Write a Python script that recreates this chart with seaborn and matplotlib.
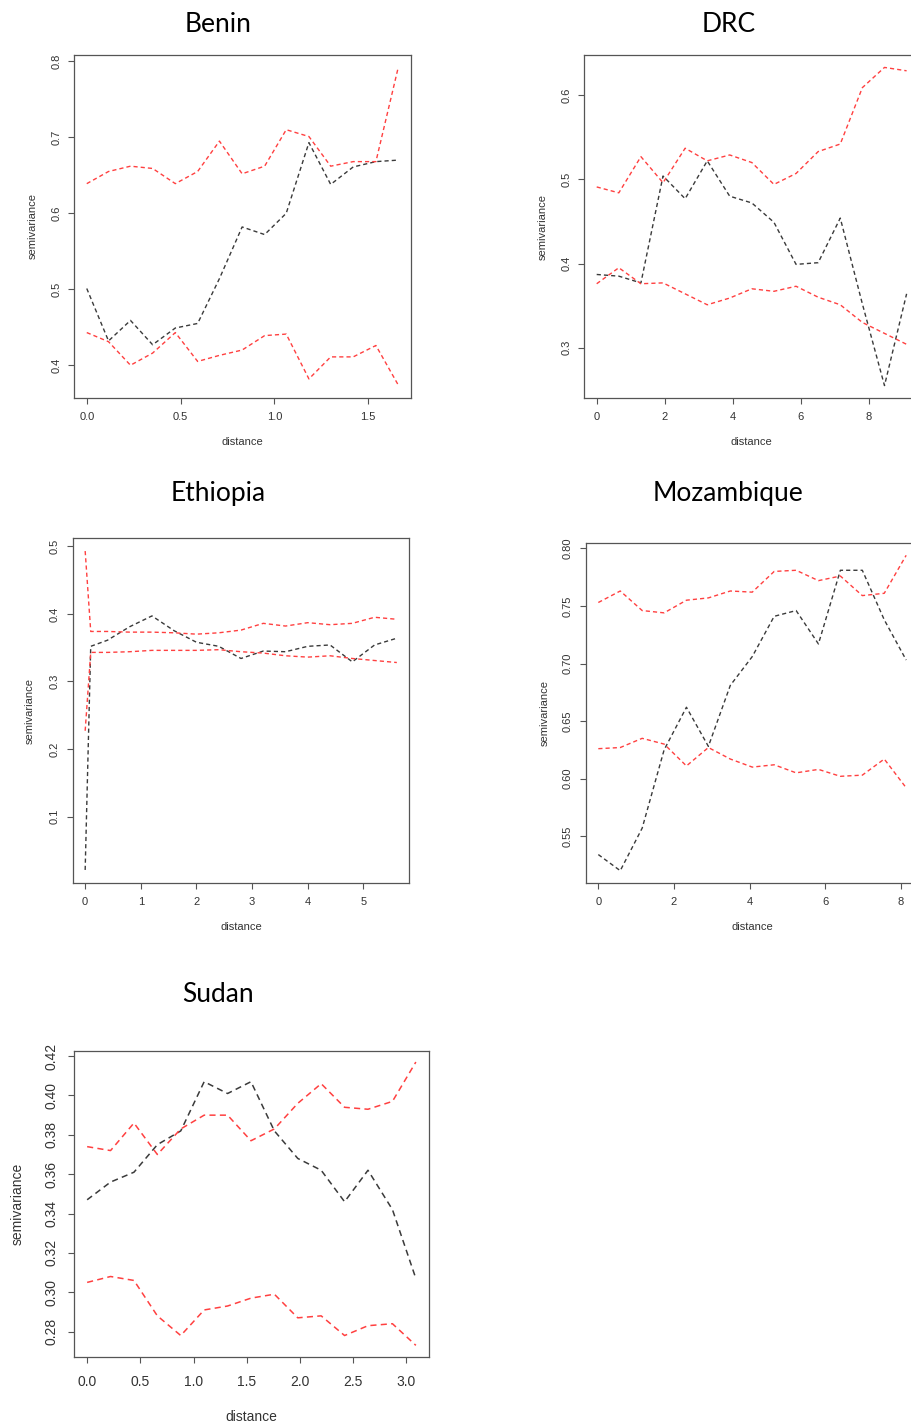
import pandas as pd
import matplotlib
matplotlib.use('Agg')
import matplotlib.pyplot as plt
import seaborn as sns

sns.set_style('ticks')
plt.rcParams['font.family'] = ['Liberation Sans', 'DejaVu Sans']

benin_dist = [0.0, 0.116, 0.233, 0.351, 0.472, 0.591, 0.707, 0.828, 0.948, 1.063, 1.184, 1.300, 1.420, 1.541, 1.660]
benin_gamma = [0.501, 0.432, 0.459, 0.427, 0.449, 0.455, 0.514, 0.582, 0.572, 0.600, 0.693, 0.638, 0.661, 0.668, 0.670]
benin_upper = [0.639, 0.655, 0.662, 0.659, 0.639, 0.655, 0.695, 0.652, 0.662, 0.710, 0.701, 0.662, 0.668, 0.668, 0.792]
benin_lower = [0.443, 0.431, 0.400, 0.416, 0.443, 0.405, 0.413, 0.420, 0.439, 0.441, 0.382, 0.411, 0.411, 0.426, 0.374]

drc_dist = [0.0, 0.65, 1.30, 1.95, 2.60, 3.25, 3.91, 4.56, 5.21, 5.86, 6.51, 7.16, 7.81, 8.46, 9.11]
drc_gamma = [0.387, 0.385, 0.377, 0.504, 0.477, 0.522, 0.480, 0.472, 0.449, 0.399, 0.401, 0.454, 0.352, 0.255, 0.364]
drc_upper = [0.491, 0.484, 0.527, 0.496, 0.537, 0.522, 0.529, 0.520, 0.494, 0.507, 0.533, 0.542, 0.609, 0.633, 0.629]
drc_lower = [0.376, 0.395, 0.376, 0.377, 0.364, 0.351, 0.359, 0.370, 0.367, 0.373, 0.360, 0.351, 0.330, 0.317, 0.304]

ethiopia_dist = [0.0, 0.1, 0.4, 0.8, 1.2, 1.6, 2.0, 2.4, 2.8, 3.2, 3.6, 4.0, 4.4, 4.8, 5.2, 5.6]
ethiopia_gamma = [0.021, 0.352, 0.361, 0.381, 0.397, 0.375, 0.358, 0.352, 0.334, 0.345, 0.344, 0.352, 0.354, 0.329, 0.354, 0.364]
ethiopia_upper = [0.493, 0.374, 0.374, 0.373, 0.373, 0.372, 0.370, 0.372, 0.376, 0.386, 0.382, 0.387, 0.384, 0.386, 0.395, 0.392]
ethiopia_lower = [0.227, 0.343, 0.343, 0.344, 0.346, 0.346, 0.346, 0.347, 0.344, 0.342, 0.338, 0.336, 0.338, 0.334, 0.331, 0.328]

mozambique_dist = [0.0, 0.58, 1.16, 1.74, 2.33, 2.91, 3.49, 4.07, 4.65, 5.23, 5.82, 6.40, 6.98, 7.56, 8.14]
mozambique_gamma = [0.534, 0.520, 0.557, 0.625, 0.662, 0.628, 0.681, 0.706, 0.741, 0.746, 0.717, 0.781, 0.781, 0.738, 0.703]
mozambique_upper = [0.753, 0.763, 0.746, 0.744, 0.755, 0.757, 0.763, 0.762, 0.780, 0.781, 0.772, 0.776, 0.759, 0.761, 0.794]
mozambique_lower = [0.626, 0.627, 0.635, 0.630, 0.611, 0.627, 0.617, 0.610, 0.612, 0.605, 0.608, 0.602, 0.603, 0.617, 0.592]

sudan_dist = [0.0, 0.22, 0.44, 0.66, 0.88, 1.10, 1.32, 1.54, 1.76, 1.98, 2.20, 2.42, 2.64, 2.87, 3.09]
sudan_gamma = [0.347, 0.356, 0.361, 0.375, 0.382, 0.407, 0.401, 0.407, 0.382, 0.368, 0.362, 0.346, 0.362, 0.342, 0.307]
sudan_upper = [0.374, 0.372, 0.386, 0.370, 0.383, 0.390, 0.390, 0.377, 0.383, 0.396, 0.406, 0.394, 0.393, 0.397, 0.417]
sudan_lower = [0.305, 0.308, 0.306, 0.288, 0.278, 0.291, 0.293, 0.297, 0.299, 0.287, 0.288, 0.278, 0.283, 0.284, 0.273]

countries = ['Benin', 'DRC', 'Ethiopia', 'Mozambique', 'Sudan']

benin_xticks = ['0.0', '0.5', '1.0', '1.5']
benin_yticks = ['0.4', '0.5', '0.6', '0.7', '0.8']
drc_xticks = ['0', '2', '4', '6', '8']
drc_yticks = ['0.3', '0.4', '0.5', '0.6']
ethiopia_xticks = ['0', '1', '2', '3', '4', '5']
ethiopia_yticks = ['0.1', '0.2', '0.3', '0.4', '0.5']
mozambique_xticks = ['0', '2', '4', '6', '8']
mozambique_yticks = ['0.55', '0.60', '0.65', '0.70', '0.75', '0.80']
sudan_xticks = ['0.0', '0.5', '1.0', '1.5', '2.0', '2.5', '3.0']
sudan_yticks = ['0.28', '0.30', '0.32', '0.34', '0.36', '0.38', '0.40', '0.42']

series = {
    'Benin': (benin_dist, benin_gamma, benin_upper, benin_lower, benin_xticks, benin_yticks),
    'DRC': (drc_dist, drc_gamma, drc_upper, drc_lower, drc_xticks, drc_yticks),
    'Ethiopia': (ethiopia_dist, ethiopia_gamma, ethiopia_upper, ethiopia_lower, ethiopia_xticks, ethiopia_yticks),
    'Mozambique': (mozambique_dist, mozambique_gamma, mozambique_upper, mozambique_lower, mozambique_xticks, mozambique_yticks),
    'Sudan': (sudan_dist, sudan_gamma, sudan_upper, sudan_lower, sudan_xticks, sudan_yticks),
}

#  layout in pixels: axes box (left, top, right, bottom), title centre/baseline, label offsets
W, H = 911, 1427
layout = {
    'Benin': dict(box=(74.3, 54.7, 410.7, 397.7), title=(218, 31.5), xl=-0.128, yl=-0.124, fs=8, pad=(6.0, 5.3), dash=(3, 2.2), lw=1.0),
    'DRC': dict(box=(584.3, 54.7, 919.0, 398.3), title=(729, 31.5), xl=-0.126, yl=-0.124, fs=8, pad=(6.0, 5.3), dash=(3, 2.2), lw=1.0),
    'Ethiopia': dict(box=(72.7, 538.3, 409.3, 882.7), title=(218, 500.5), xl=-0.128, yl=-0.127, fs=8, pad=(6.0, 5.3), dash=(3, 2.2), lw=1.0),
    'Mozambique': dict(box=(586.0, 542.7, 918.5, 883.3), title=(728, 500.5), xl=-0.127, yl=-0.123, fs=8, pad=(6.0, 5.3), dash=(3, 2.2), lw=1.0),
    'Sudan': dict(box=(74.0, 1050.7, 429.0, 1356.7), title=(218, 1001.5), xl=-0.196, yl=-0.160, fs=10, pad=(9.5, 7.5), dash=(4, 2.8), lw=1.1),
}

black = '#3a3a3a'
red = '#ff4040'
frame = '#555555'

fig = plt.figure(figsize=(W / 100, H / 100), dpi=100)

for name in countries:
    dist, gamma, upper, lower, xt, yt = series[name]
    lay = layout[name]
    l, t, r, b = lay['box']
    ax = fig.add_axes([l / W, 1 - b / H, (r - l) / W, (b - t) / H])

    sns.lineplot(x=dist, y=gamma, ax=ax, color=black, lw=lay['lw'], sort=False)
    sns.lineplot(x=dist, y=upper, ax=ax, color=red, lw=lay['lw'], sort=False)
    sns.lineplot(x=dist, y=lower, ax=ax, color=red, lw=lay['lw'], sort=False)
    for line in ax.lines:
        line.set_dashes(lay['dash'])

    ax.margins(x=0.04, y=0.04)
    ax.set_xticks([float(v) for v in xt])
    ax.set_xticklabels(xt)
    ax.set_yticks([float(v) for v in yt])
    ax.set_yticklabels(yt, rotation=90, va='center')
    ax.tick_params(axis='x', length=4, width=0.8, color=frame, labelsize=lay['fs'],
                   labelcolor='#333333', pad=lay['pad'][0])
    ax.tick_params(axis='y', length=4, width=0.8, color=frame, labelsize=lay['fs'],
                   labelcolor='#333333', pad=lay['pad'][1])
    for sp in ax.spines.values():
        sp.set_visible(True)
        sp.set_color(frame)
        sp.set_linewidth(0.9)

    ax.set_xlabel('distance', fontsize=lay['fs'], color='#333333')
    ax.set_ylabel('semivariance', fontsize=lay['fs'], color='#333333')
    ax.xaxis.set_label_coords(0.5, lay['xl'])
    ax.yaxis.set_label_coords(lay['yl'], 0.5)
    ax.xaxis.label.set_va('center')
    ax.yaxis.label.set_va('center')

    tx, ty = lay['title']
    fig.text(tx / W, 1 - ty / H, name, ha='center', va='baseline', fontsize=19,
             family=['Lato', 'DejaVu Sans'], color='black')

fig.savefig('out.png', dpi=100)
